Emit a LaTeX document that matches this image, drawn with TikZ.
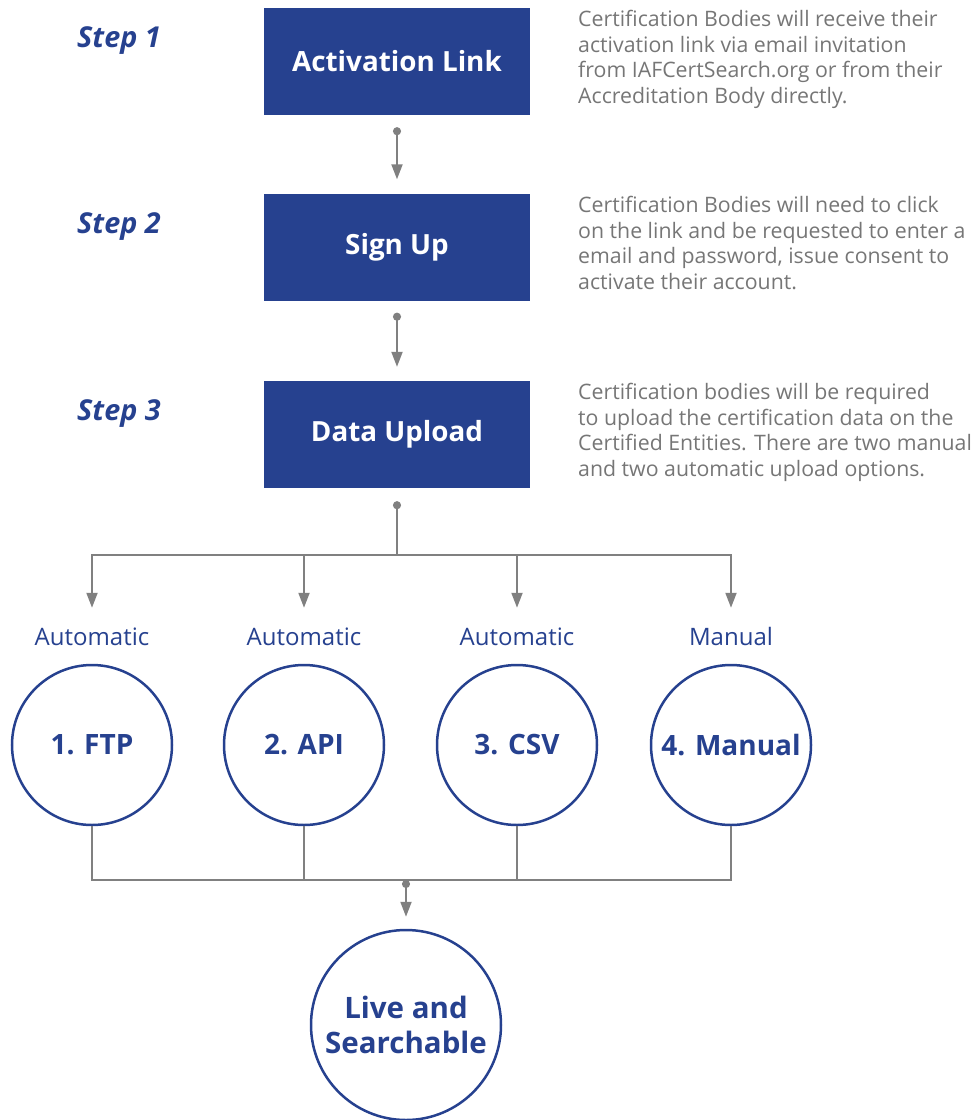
\documentclass[tikz,border=0pt]{standalone}
\usepackage{fontspec}
\setmainfont{Open Sans}
\usetikzlibrary{arrows.meta}
\definecolor{iafblue}{RGB}{38,65,143}
\definecolor{notegray}{RGB}{118,118,118}
\definecolor{linegray}{RGB}{128,128,128}

\begin{document}
\begin{tikzpicture}[x=1pt,y=-1pt,
    link/.style={draw=linegray,line width=2pt},
    flow/.style={link,{Circle[length=8pt]}-{Triangle[length=15pt,width=11pt]}},
    push/.style={link,-{Triangle[length=15pt,width=11pt]}}]

  \useasboundingbox (0,0) rectangle (975,1120);

  % steps
  \begin{scope}[every node/.style={fill=iafblue,text=white,minimum width=266pt,minimum height=107pt,inner sep=0pt,font=\fontsize{27.8}{32}\selectfont\bfseries}]
    \node (activation) at (397,61.5)  {Activation Link};
    \node (signup)     at (397,247)   {Sign Up};
    \node (upload)     at (397,434.5) {Data Upload};
  \end{scope}

  \begin{scope}[every node/.style={text=iafblue,anchor=base,font=\fontsize{28.8}{32}\selectfont\bfseries\itshape}]
    \node (step1) at (119,47)  {Step 1};
    \node (step2) at (119,233) {Step 2};
    \node (step3) at (119,420) {Step 3};
  \end{scope}

  \begin{scope}[every node/.style={text=notegray,anchor=north west,align=left,inner sep=0pt,font=\fontsize{21.3}{25.7}\selectfont}]
    \node (note1) at (578,10)  {Certification Bodies will receive their\\activation link via email invitation\\from IAFCertSearch.org or from their\\Accreditation Body directly.};
    \node (note2) at (578,196) {Certification Bodies will need to click\\on the link and be requested to enter a\\email and password, issue consent to\\activate their account.};
    \node (note3) at (578,383) {Certification bodies will be required\\to upload the certification data on the\\Certified Entities. There are two manual\\and two automatic upload options.};
  \end{scope}

  % upload options
  \begin{scope}[every node/.style={text=iafblue,anchor=base,font=\fontsize{24}{28}\selectfont}]
    \node (kind1) at (92,645)  {Automatic};
    \node (kind2) at (304,645) {Automatic};
    \node (kind3) at (517,645) {Automatic};
    \node (kind4) at (731,645) {Manual};
  \end{scope}

  \begin{scope}[every node/.style={circle,draw=iafblue,line width=2.5pt,minimum size=160pt,inner sep=0pt,text=iafblue,align=center,font=\fontsize{28}{35}\selectfont\bfseries}]
    \node (ftp)    at (92,745)  {1. FTP};
    \node (api)    at (304,745) {2. API};
    \node (csv)    at (517,745) {3. CSV};
    \node (manual) at (731,745) {4. Manual};
    \node[minimum size=190pt,font=\fontsize{29.5}{35}\selectfont\bfseries] (live) at (406,1025) {Live and\\Searchable};
  \end{scope}

  % connectors
  \draw[flow] ([yshift=-12pt]activation.south) -- ([yshift=14pt]signup.north);
  \draw[flow] ([yshift=-12pt]signup.south) -- ([yshift=14pt]upload.north);

  \coordinate (split) at (397,555);
  \draw[link,{Circle[length=8pt]}-] ([yshift=-13pt]upload.south) -- (split);
  \foreach \opt in {ftp,api,csv,manual}
    \draw[push] (split) -| ([yshift=56pt]\opt.north);

  \coordinate (merge) at (406,880);
  \foreach \opt in {ftp,api,csv,manual}
    \draw[link] (\opt.south) |- (merge);
  \draw[flow] (merge) -- ([yshift=12pt]live.north);

\end{tikzpicture}
\end{document}
